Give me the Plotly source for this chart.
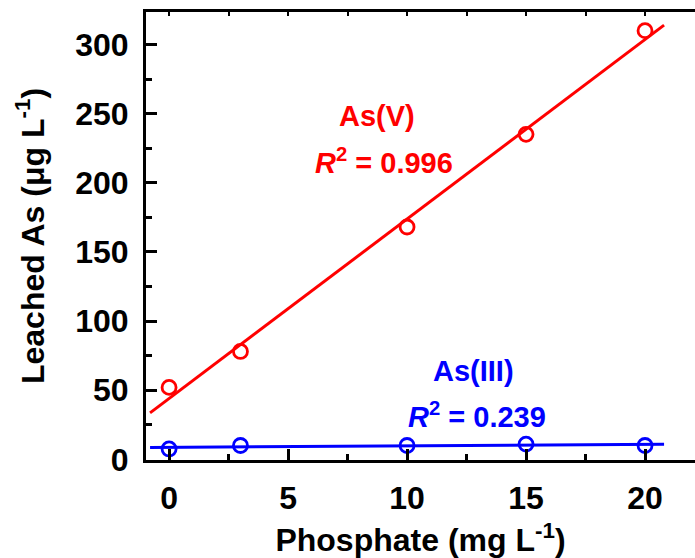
import numpy as np
import plotly.graph_objects as go

# Leached arsenic vs. phosphate concentration
phosphate = [0, 3, 10, 15, 20]
as_v = [52, 78, 168, 235, 310]
as_iii = [7.5, 10, 10, 11, 10]

x_ticks = [0, 5, 10, 15, 20]
y_ticks = [0, 50, 100, 150, 200, 250, 300]

FONT = "Liberation Sans, Arial, sans-serif"
RED = "#ff0000"
BLUE = "#0000ff"

# linear fits drawn across the plotted x span
fit_x = np.array([-0.8, 20.8])
kv = np.polyfit(phosphate, as_v, 1)
ki = np.polyfit(phosphate, as_iii, 1)

fig = go.Figure()

for ys, k, col in [(as_v, kv, RED), (as_iii, ki, BLUE)]:
    fig.add_trace(go.Scatter(
        x=fit_x, y=np.polyval(k, fit_x), mode="lines",
        line=dict(color=col, width=3), showlegend=False, hoverinfo="skip"))
    fig.add_trace(go.Scatter(
        x=phosphate, y=ys, mode="markers",
        marker=dict(symbol="circle-open", size=14, color=col,
                    line=dict(width=2.8, color=col)),
        showlegend=False))

# empty trace to carry the top frame axis
fig.add_trace(go.Scatter(x=[None], y=[None], xaxis="x2", showlegend=False,
                         hoverinfo="skip"))

xr = [-0.97, 22.1]
fig.update_layout(
    width=695, height=558,
    margin=dict(l=146, r=0, t=12, b=98),
    paper_bgcolor="white", plot_bgcolor="white",
    font=dict(family=FONT, size=32, color="black"),
    xaxis=dict(
        range=xr, tickvals=x_ticks, ticks="inside", ticklen=11, tickwidth=2.5,
        tickcolor="black", showline=True, linewidth=3, linecolor="black",
        showgrid=False, zeroline=False, ticklabelstandoff=8,
        tickfont=dict(family=FONT, size=32, color="black", weight="bold"),
        minor=dict(dtick=2.5, tick0=0, ticks="inside", ticklen=6,
                   tickwidth=2.5, tickcolor="black", showgrid=False),
        title=dict(text="Phosphate (mg L<sup>-1</sup>)", standoff=14,
                   font=dict(family=FONT, size=32, color="black", weight="bold")),
    ),
    xaxis2=dict(
        range=xr, overlaying="x", side="top", anchor="y", dtick=2.5, tick0=0,
        ticks="inside", ticklen=4, tickwidth=2, tickcolor="black",
        showticklabels=False, showline=True, linewidth=3, linecolor="black",
        showgrid=False, zeroline=False,
    ),
    yaxis=dict(
        range=[-0.5, 323.5], tickvals=y_ticks, ticks="inside", ticklen=11,
        tickwidth=2.5, tickcolor="black", showline=True, linewidth=3,
        linecolor="black", showgrid=False, zeroline=False, ticklabelstandoff=8,
        tickfont=dict(family=FONT, size=32, color="black", weight="bold"),
        minor=dict(dtick=25, tick0=0, ticks="inside", ticklen=6,
                   tickwidth=2.5, tickcolor="black", showgrid=False),
        title=dict(text="Leached As (\u03bcg L<sup>-1</sup>)", standoff=22,
                   font=dict(family=FONT, size=32, color="black", weight="bold")),
    ),
)

labels = [
    ("As(V)", 8.74, 248, RED),
    ("<i>R</i><sup>2</sup> = 0.996", 9.03, 216, RED),
    ("As(III)", 12.8, 64, BLUE),
    ("<i>R</i><sup>2</sup> = 0.239", 12.95, 32, BLUE),
]
for txt, x, y, col in labels:
    fig.add_annotation(x=x, y=y, xref="x", yref="y", text=txt, showarrow=False,
                       font=dict(family=FONT, size=29, color=col, weight="bold"))

fig.write_html("out.html")
